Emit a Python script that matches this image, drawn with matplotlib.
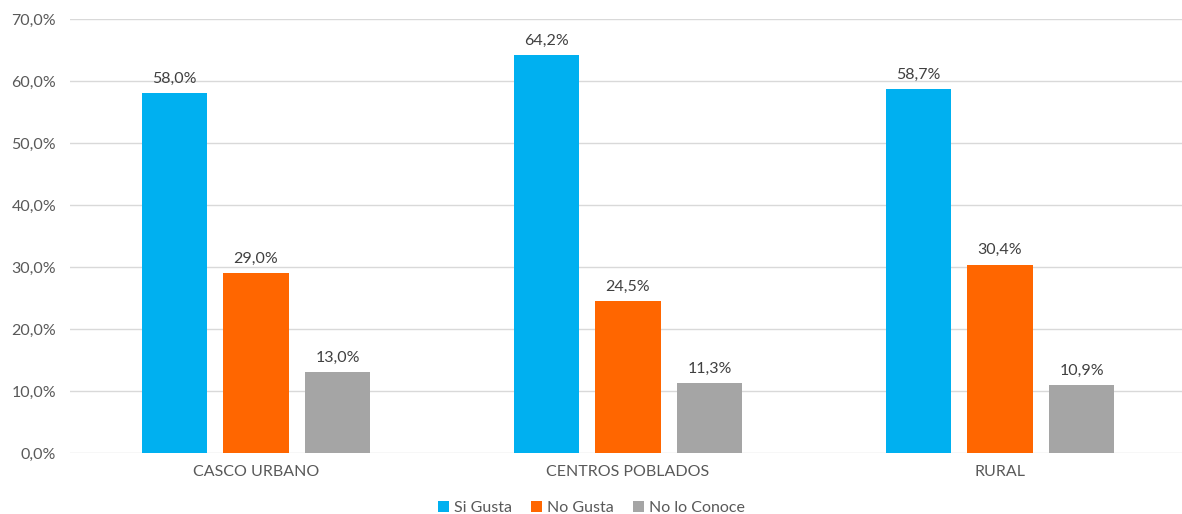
import matplotlib.pyplot as plt
import numpy as np

# data
categories = ['CASCO URBANO', 'CENTROS POBLADOS', 'RURAL']
series = ['Si Gusta', 'No Gusta', 'No lo Conoce']
si_gusta = [58.0, 64.2, 58.7]
no_gusta = [29.0, 24.5, 30.4]
no_conoce = [13.0, 11.3, 10.9]
colors = ['#00B0F0', '#FF6600', '#A5A5A5']

plt.rcParams['font.family'] = ['Lato', 'DejaVu Sans']
txt = '#595959'

fig = plt.figure(figsize=(11.82, 5.14), dpi=100)
ax = fig.add_axes([70 / 1182, 1 - 453 / 514, 1116 / 1182, 434 / 514])

x = np.arange(len(categories))
width = 0.175
step = 0.22
for i, (vals, name) in enumerate(zip([si_gusta, no_gusta, no_conoce], series)):
    pos = x + (i - 1) * step
    bars = ax.bar(pos, vals, width, color=colors[i], label=name, zorder=3)
    for xp, v in zip(pos, vals):
        ax.text(xp, v + 1.2, f'{v:.1f}%'.replace('.', ','), ha='center', va='bottom',
                fontsize=11.5, color='#404040')

ax.set_xlim(-0.5, 2.5)
ax.set_ylim(0, 70)
ax.set_yticks(np.arange(0, 71, 10))
ax.set_yticklabels([f'{t:.1f}%'.replace('.', ',') for t in np.arange(0, 71, 10)])
ax.set_xticks(x)
ax.set_xticklabels(categories)
ax.tick_params(axis='both', length=0, labelsize=11.5, colors=txt)
ax.tick_params(axis='x', pad=9)
ax.tick_params(axis='y', pad=10)
ax.grid(axis='y', color='#D9D9D9', linewidth=1, zorder=0)
for s in ax.spines.values():
    s.set_visible(False)

leg = fig.legend(loc='center', bbox_to_anchor=(0.5, 6 / 514), ncol=3, frameon=False,
                 fontsize=11.5, handlelength=0.7, handleheight=0.7, handletextpad=0.3,
                 columnspacing=1.2)
for t in leg.get_texts():
    t.set_color(txt)

fig.savefig('out.png', dpi=100)
